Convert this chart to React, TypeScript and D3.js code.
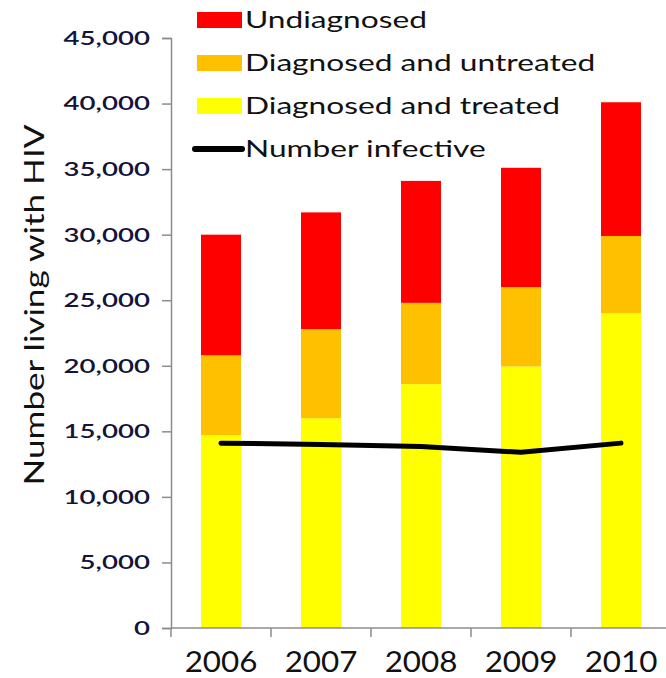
import React, { useEffect, useRef } from 'react';
import * as d3 from 'd3';

const years = ['2006', '2007', '2008', '2009', '2010'];
const treated = [14700, 16000, 18600, 19950, 24000];
const untreated = [6100, 6800, 6200, 6050, 5900];
const undiagnosed = [9200, 8900, 9300, 9100, 10200];
const infective = [14100, 14000, 13850, 13400, 14100];
const yTicks = [0, 5000, 10000, 15000, 20000, 25000, 30000, 35000, 40000, 45000];

const seriesKeys = ['treated', 'untreated', 'undiagnosed'];
const seriesColors = { treated: '#FFFF00', untreated: '#FFC000', undiagnosed: '#FF0000' };
const legendItems = [
    { label: 'Undiagnosed', key: 'undiagnosed' },
    { label: 'Diagnosed and untreated', key: 'untreated' },
    { label: 'Diagnosed and treated', key: 'treated' },
    { label: 'Number infective', key: 'line' },
];

const W = 666;
const H = 678;
const FONT = 'Lato, "Open Sans", sans-serif';

// stretch text horizontally, the reference glyphs are wide
const stretch = (sel, sx) => {
    sel.each(function () {
        const len = this.getComputedTextLength();
        d3.select(this).attr('textLength', len * sx).attr('lengthAdjust', 'spacingAndGlyphs');
    });
};

export default function App() {
    const svgRef = useRef(null);

    useEffect(() => {
        const svg = d3.select(svgRef.current);
        svg.selectAll('*').remove();

        const margin = { left: 171, top: 38 };
        const baseY = 628;
        const y = d3.scaleLinear().domain([0, 45000]).range([baseY, margin.top]);
        const x = d3.scaleBand().domain(years).range([margin.left, margin.left + 500]).paddingInner(0.6).paddingOuter(0.3);

        const rows = years.map((yr, i) => ({ year: yr, treated: treated[i], untreated: untreated[i], undiagnosed: undiagnosed[i] }));
        const stacked = d3.stack().keys(seriesKeys)(rows);

        // bars
        svg.append('g')
            .selectAll('g')
            .data(stacked)
            .join('g')
            .attr('fill', d => seriesColors[d.key])
            .selectAll('rect')
            .data(d => d)
            .join('rect')
            .attr('x', d => x(d.data.year))
            .attr('width', x.bandwidth())
            .attr('y', d => y(d[1]))
            .attr('height', d => y(d[0]) - y(d[1]));

        // axes
        const axisColor = '#8c8c8c';
        const yAxis = svg.append('g')
            .attr('transform', `translate(${margin.left},0)`)
            .call(d3.axisLeft(y).tickValues(yTicks).tickSize(9).tickPadding(12).tickFormat(d3.format(',')));
        yAxis.select('.domain').attr('stroke', axisColor).attr('stroke-width', 1.5);
        yAxis.selectAll('.tick line').attr('stroke', axisColor).attr('stroke-width', 1.5);
        yAxis.selectAll('text')
            .attr('fill', '#14143a')
            .style('font-family', FONT)
            .style('font-size', '20px')
            .style('font-weight', 600);
        stretch(yAxis.selectAll('text'), 1.38);

        const xAxis = svg.append('g')
            .attr('transform', `translate(0,${baseY})`)
            .call(d3.axisBottom(x).tickSize(0).tickPadding(24));
        xAxis.select('.domain').attr('stroke', axisColor).attr('stroke-width', 1.5).attr('d', `M${margin.left},0H${W}`);
        xAxis.selectAll('text')
            .attr('fill', '#111')
            .style('font-family', FONT)
            .style('font-size', '28px');
        stretch(xAxis.selectAll('text'), 1.12);

        // category separators below the x axis
        const gap = (x.step() - x.bandwidth()) / 2;
        svg.append('g')
            .selectAll('line')
            .data(years)
            .join('line')
            .attr('x1', d => x(d) - gap)
            .attr('x2', d => x(d) - gap)
            .attr('y1', baseY)
            .attr('y2', baseY + 9)
            .attr('stroke', axisColor)
            .attr('stroke-width', 1.5);

        // y axis title
        const title = svg.append('text')
            .attr('transform', `translate(44,${(margin.top + baseY) / 2 - 28}) rotate(-90)`)
            .attr('text-anchor', 'middle')
            .attr('fill', '#111')
            .style('font-family', FONT)
            .style('font-size', '27px')
            .text('Number living with HIV');
        stretch(title, 1.3);

        // infective line
        const line = d3.line().x((d, i) => x(years[i]) + x.bandwidth() / 2).y(d => y(d));
        svg.append('path')
            .attr('d', line(infective))
            .attr('fill', 'none')
            .attr('stroke', '#000')
            .attr('stroke-width', 5)
            .attr('stroke-linecap', 'round')
            .attr('stroke-linejoin', 'round');

        // legend
        const legend = svg.append('g').attr('transform', 'translate(197,20)');
        const item = legend.selectAll('g')
            .data(legendItems)
            .join('g')
            .attr('transform', (d, i) => `translate(0,${i * 43})`);
        item.filter(d => d.key !== 'line')
            .append('rect')
            .attr('x', 0)
            .attr('y', -8)
            .attr('width', 45)
            .attr('height', 16)
            .attr('fill', d => seriesColors[d.key]);
        item.filter(d => d.key === 'line')
            .append('line')
            .attr('x1', -2)
            .attr('x2', 45)
            .attr('stroke', '#000')
            .attr('stroke-width', 6)
            .attr('stroke-linecap', 'round');
        const labels = item.append('text')
            .attr('x', 48)
            .attr('dy', '0.35em')
            .attr('fill', '#111')
            .style('font-family', FONT)
            .style('font-size', '24px')
            .text(d => d.label);
        stretch(labels, 1.32);
    }, []);

    return (
        <svg ref={svgRef} width={W} height={H} style={{ position: 'absolute', left: 0, top: 0, background: '#fff' }} />
    );
}
